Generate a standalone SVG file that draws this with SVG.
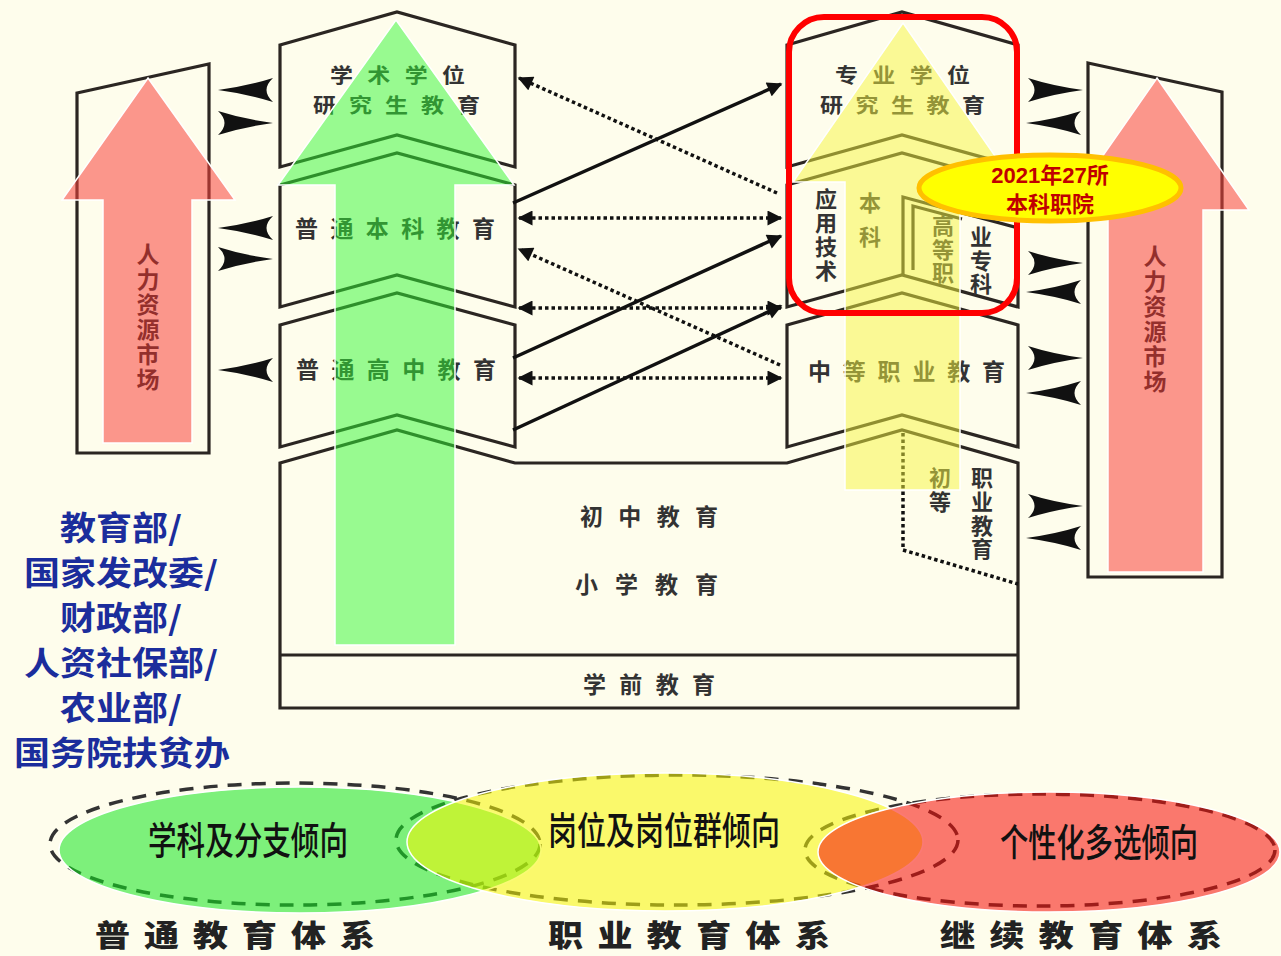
<svg xmlns="http://www.w3.org/2000/svg" width="1281" height="956" viewBox="0 0 1281 956">
<style>
.box{fill:none;stroke:#2b2622;stroke-width:3.2;stroke-linejoin:miter}
.bt{font-family:"Noto Sans CJK SC","Noto Sans",sans-serif;font-weight:700;font-size:23px;fill:#333}
.vt{font-family:"Noto Sans CJK SC","Noto Sans",sans-serif;font-weight:700;font-size:22px;fill:#333;writing-mode:vertical-rl;text-orientation:upright}
.hr{font-family:"Noto Sans CJK SC","Noto Sans",sans-serif;font-weight:700;font-size:23px;fill:#1a1a1a;writing-mode:vertical-rl;text-orientation:upright;letter-spacing:2px}
.dot{fill:none;stroke:#111;stroke-width:3.5;stroke-dasharray:3.5 3}
.sol{fill:none;stroke:#111;stroke-width:3.5}
.ag{font-family:"Noto Sans CJK SC","Noto Sans",sans-serif;font-weight:700;font-size:36px;fill:#1b2d9c;text-anchor:middle}
.el{font-family:"Noto Sans CJK SC","Noto Sans",sans-serif;font-weight:500;font-size:38px;fill:#111}
.sys{font-family:"Noto Sans CJK SC","Noto Sans",sans-serif;font-weight:900;font-size:35px;fill:#222}
.dash{fill:none;stroke:#333;stroke-width:3.5;stroke-dasharray:14 10}
.ov{stroke:#fff;stroke-width:1.5}
</style>
<defs>
<marker id="ah" viewBox="0 0 10 10" refX="9" refY="5" markerWidth="17" markerHeight="15" markerUnits="userSpaceOnUse" orient="auto-start-reverse"><path d="M0,0 L10,5 L0,10 z" fill="#111"/></marker>
<path id="nl" d="M0,0 Q30,-4 55,-12 Q42,0 55,12 Q30,4 0,0 Z" fill="#111"/>
</defs>
<rect width="1281" height="956" fill="#fefdec"/>

<g id="hr-left">
<polygon class="box" points="77,93 209,64 209,453 77,453"/>
<text class="hr" x="148" y="243">人力资源市场</text>
</g>
<g id="hr-right">
<polygon class="box" points="1088,63 1222,92 1222,577 1088,577"/>
<text class="hr" x="1155" y="245">人力资源市场</text>
</g>

<g id="academic-grad">
<polygon class="box" points="280,45 397,12 515,45 515,167 397,135 280,167"/>
<text class="bt" transform="translate(330,83) scale(1,0.88)" textLength="135">学术学位</text>
<text class="bt" transform="translate(313,113) scale(1,0.88)" textLength="167">研究生教育</text>
</g>
<g id="undergrad">
<polygon class="box" points="280,185 397,153 515,185 515,307 397,275 280,307"/>
<text class="bt" x="295" y="237" textLength="200">普通本科教育</text>
</g>
<g id="highschool">
<polygon class="box" points="280,325 397,293 515,325 515,447 397,415 280,447"/>
<text class="bt" x="296" y="378" textLength="200">普通高中教育</text>
</g>
<g id="professional-grad">
<polygon class="box" points="787,45 902,12 1018,45 1018,167 902,135 787,167"/>
<text class="bt" transform="translate(835,83) scale(1,0.88)" textLength="135">专业学位</text>
<text class="bt" transform="translate(820,113) scale(1,0.88)" textLength="165">研究生教育</text>
</g>
<g id="applied-undergrad">
<polygon class="box" points="787,185 902,153 1018,185 1018,307 902,275 787,307"/>
<polyline class="box" points="903,276 903,197 1018,228"/>
<polyline class="box" stroke-width="2.5" points="913,270 913,206 962,219"/>
<text class="vt" x="826" y="188" letter-spacing="2">应用技术</text>
<text class="vt" x="870" y="192" letter-spacing="12">本科</text>
<text class="vt" x="943" y="215" letter-spacing="1.5">高等职</text>
<text class="vt" x="981" y="226" letter-spacing="1.5">业专科</text>
</g>
<g id="secondary-voc">
<polygon class="box" points="787,325 902,293 1018,325 1018,447 902,415 787,447"/>
<text class="bt" x="808" y="380" textLength="197">中等职业教育</text>
</g>
<g id="basic-edu">
<path class="box" d="M280,463 L397,430 L515,463 L787,463 L902,430 L1018,463 L1018,708 L280,708 Z M280,655 L1018,655"/>
<path class="dot" stroke-width="3" d="M903,433 L903,550 L1018,584"/>
<text class="bt" x="580" y="525" textLength="138">初中教育</text>
<text class="bt" x="575" y="593" textLength="143">小学教育</text>
<text class="bt" x="583" y="693" textLength="132">学前教育</text>
<text class="vt" x="940" y="467" letter-spacing="2">初等</text>
<text class="vt" x="982" y="467" letter-spacing="1.7">职业教育</text>
</g>

<g id="connectors">
<path class="dot" d="M777,193 L519,78" marker-end="url(#ah)"/>
<path class="sol" d="M513,203 L781,84" marker-end="url(#ah)"/>
<path class="dot" d="M519,218 L781,218" marker-start="url(#ah)" marker-end="url(#ah)"/>
<path class="sol" d="M513,358 L781,236" marker-end="url(#ah)"/>
<path class="dot" d="M780,365 L519,249" marker-end="url(#ah)"/>
<path class="dot" d="M519,308 L781,308" marker-start="url(#ah)" marker-end="url(#ah)"/>
<path class="sol" d="M513,430 L781,306" marker-end="url(#ah)"/>
<path class="dot" d="M519,378 L781,378" marker-start="url(#ah)" marker-end="url(#ah)"/>
<use href="#nl" transform="translate(218,90)"/>
<use href="#nl" transform="translate(273,123) scale(-1,1)"/>
<use href="#nl" transform="translate(218,228)"/>
<use href="#nl" transform="translate(273,259) scale(-1,1)"/>
<use href="#nl" transform="translate(218,370)"/>
<use href="#nl" transform="translate(1083,90) scale(-1,1)"/>
<use href="#nl" transform="translate(1026,123)"/>
<use href="#nl" transform="translate(1083,263) scale(-1,1)"/>
<use href="#nl" transform="translate(1026,292)"/>
<use href="#nl" transform="translate(1083,358) scale(-1,1)"/>
<use href="#nl" transform="translate(1026,393)"/>
<use href="#nl" transform="translate(1083,506) scale(-1,1)"/>
<use href="#nl" transform="translate(1026,538)"/>
</g>

<g id="overlay-arrows">
<polygon class="ov" fill="#32f734" fill-opacity="0.5" points="396,20 514,185 455,185 455,645 335,645 335,185 278,185"/>
<polygon class="ov" fill="#f6f63e" fill-opacity="0.5" points="903,23 1013,182 960,182 960,490 845,490 845,182 793,182"/>
<polygon class="ov" fill="#f7413c" fill-opacity="0.55" points="148,78 235,200 192,200 192,443 103,443 103,200 62,200"/>
<polygon class="ov" fill="#f7413c" fill-opacity="0.55" points="1157,78 1249,210 1203,210 1203,572 1108,572 1108,210 1065,210"/>
</g>

<g id="highlight">
<rect x="789" y="17" width="228" height="296" rx="35" fill="none" stroke="#ff0000" stroke-width="6"/>
</g>
<g id="note">
<ellipse cx="1050" cy="188" rx="131" ry="33" fill="#ffff00" stroke="#ffc000" stroke-width="5"/>
<text x="1050" y="183" text-anchor="middle" font-family="Liberation Sans,Noto Sans CJK SC,sans-serif" font-weight="700" font-size="22" fill="#c00000">2021年27所</text>
<text x="1050" y="212" text-anchor="middle" font-family="Noto Sans CJK SC,sans-serif" font-weight="700" font-size="22" fill="#c00000">本科职院</text>
</g>

<g id="agencies">
<text class="ag" transform="translate(121,540) scale(1,0.9)">教育部/</text>
<text class="ag" transform="translate(121,585) scale(1,0.9)">国家发改委/</text>
<text class="ag" transform="translate(121,630) scale(1,0.9)">财政部/</text>
<text class="ag" transform="translate(121,675) scale(1,0.9)">人资社保部/</text>
<text class="ag" transform="translate(121,720) scale(1,0.9)">农业部/</text>
<text class="ag" transform="translate(122,765) scale(1,0.9)">国务院扶贫办</text>
</g>

<g id="tendencies">
<ellipse class="dash" cx="295" cy="844" rx="245" ry="61"/>
<ellipse class="dash" cx="677" cy="840" rx="281" ry="65"/>
<ellipse class="dash" cx="1040" cy="850" rx="235" ry="56"/>
<ellipse class="ov" cx="300" cy="850" rx="241" ry="63" fill="#12e51f" fill-opacity="0.55"/>
<ellipse class="ov" cx="665" cy="842" rx="258" ry="69" fill="#f6f602" fill-opacity="0.55"/>
<ellipse class="ov" cx="1049" cy="852" rx="231" ry="60" fill="#f60b05" fill-opacity="0.55"/>
<text class="el" x="148" y="854" textLength="200" lengthAdjust="spacingAndGlyphs">学科及分支倾向</text>
<text class="el" x="548" y="844" textLength="232" lengthAdjust="spacingAndGlyphs">岗位及岗位群倾向</text>
<text class="el" x="1000" y="856" textLength="198" lengthAdjust="spacingAndGlyphs">个性化多选倾向</text>
</g>
<g id="systems">
<text class="sys" transform="translate(95,946) scale(1,0.86)" textLength="280">普通教育体系</text>
<text class="sys" transform="translate(548,946) scale(1,0.86)" textLength="282">职业教育体系</text>
<text class="sys" transform="translate(940,946) scale(1,0.86)" textLength="282">继续教育体系</text>
</g>
</svg>
